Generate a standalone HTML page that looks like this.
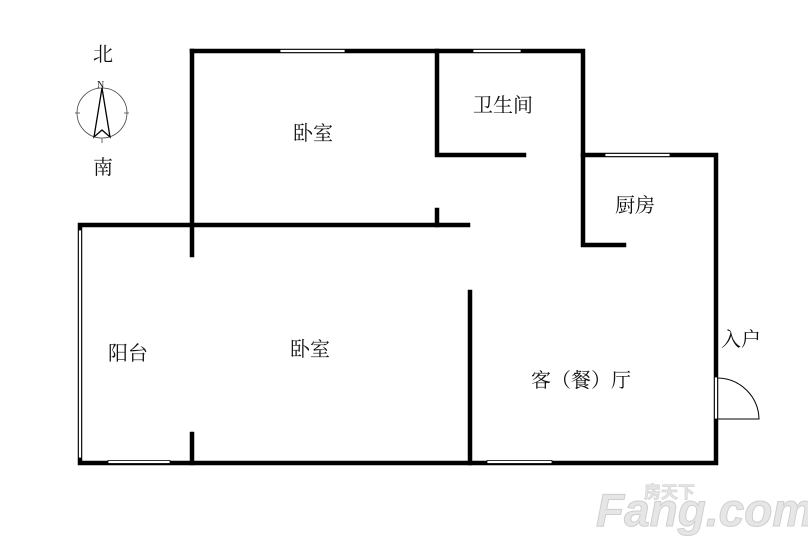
<!DOCTYPE html>
<html><head><meta charset="utf-8"><style>
body{margin:0;background:#fff;}
svg text{font-family:"Liberation Serif","Noto Serif CJK SC",serif;fill:#111;}
</style></head><body>
<svg width="808" height="547" viewBox="0 0 808 547" xmlns="http://www.w3.org/2000/svg">
<rect width="808" height="547" fill="#fff"/>
<g stroke="#000" stroke-width="4.5" fill="none" stroke-linecap="square">
<path d="M192 51 H583 V155 H716 V463 H80 V225 H468"/>
<path d="M192 51 V255"/>
<path d="M437 51 V155 H524"/>
<path d="M583 155 V245 H624"/>
<path d="M437 210 V225"/>
<path d="M470 292 V463"/>
<path d="M192 434 V463"/>
</g>
<g fill="#fff" stroke="#000" stroke-width="0.8">
<rect x="280" y="49.5" width="65" height="3"/>
<rect x="473" y="49.5" width="48" height="3"/>
<rect x="605" y="153.5" width="65" height="3"/>
<rect x="108" y="460.5" width="62" height="3"/>
<rect x="487" y="460.5" width="65" height="3"/>
<rect x="78.5" y="230" width="3" height="228"/>
<rect x="714.5" y="377" width="3" height="42"/>
</g>
<path d="M718 378 A42 42 0 0 1 759 419 H718" fill="none" stroke="#000" stroke-width="1"/>
<circle cx="102" cy="113" r="25" fill="none" stroke="#444" stroke-width="0.8"/>
<path d="M75 113h5M124 113h5M102 138v5" stroke="#444" stroke-width="0.8"/>
<path d="M102 88 L94 137 L102 130 L110 137 Z" fill="none" stroke="#000" stroke-width="1.3"/>
<text x="97" y="88" font-size="10" font-family="Liberation Sans">N</text>
<text x="93" y="61" font-size="20">北</text>
<text x="93" y="174" font-size="20">南</text>
<g font-size="20">
<text x="293" y="140">卧室</text>
<text x="473" y="112">卫生间</text>
<text x="615" y="212">厨房</text>
<text x="108" y="360">阳台</text>
<text x="290" y="356">卧室</text>
<text x="531" y="387">客（餐）厅</text>
<text x="721" y="346">入户</text>
</g>
<text x="596" y="526" font-size="46" font-weight="bold" font-style="italic" style="font-family:'Liberation Sans',sans-serif;fill:#e6e6e6;stroke:#cfcfcf;stroke-width:1">Fang.com</text>
<text x="644" y="498" font-size="17" font-weight="bold" style="font-family:'Noto Sans CJK SC',sans-serif;fill:#e6e6e6;stroke:#cfcfcf;stroke-width:0.6">房天下</text>
</svg>
</body></html>
